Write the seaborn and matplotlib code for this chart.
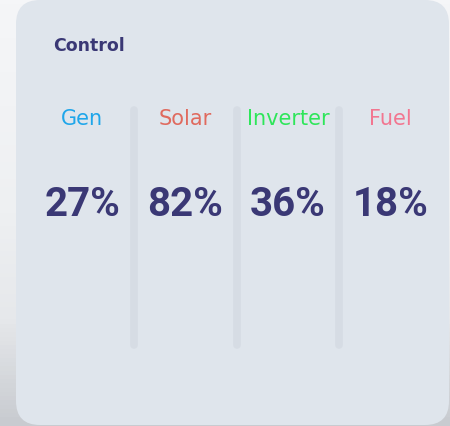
import numpy as np
import matplotlib.pyplot as plt
import seaborn as sns
from matplotlib.patches import FancyBboxPatch

# card data
title = 'Control'
sources = ['Gen', 'Solar', 'Inverter', 'Fuel']
percents = [27, 82, 36, 18]
label_colors = ['#1fa6ea', '#e06a5e', '#2ee65a', '#f27690']

sns.set_theme(style='white')
plt.rcParams['font.family'] = ['DejaVu Sans']

navy = '#3a3875'
card_color = '#dfe5ec'
sep_color = '#d6dce4'

fig = plt.figure(figsize=(4.5, 4.26), dpi=100)
fig.patch.set_facecolor('#eef0f3')

# background with soft shadow gradient, pixel coordinates
bg = fig.add_axes([0, 0, 1, 1])
bg.set_xlim(0, 450)
bg.set_ylim(426, 0)
bg.axis('off')
grad = np.linspace(0, 1, 100)[:, None] * np.ones((1, 10))
shade = sns.blend_palette(['#f5f6f8', '#f2f3f5', '#eef0f2', '#e6e8eb', '#c8cbd0'], as_cmap=True)
bg.imshow(grad, extent=(0, 450, 426, 0), cmap=shade, aspect='auto', zorder=0)
card = FancyBboxPatch((16, 0), 433, 425, boxstyle='round,pad=0,rounding_size=24',
                      facecolor=card_color, edgecolor='none', zorder=1)
bg.add_patch(card)
bg.text(53, 51, title, fontsize=12.5, fontweight='bold', color=navy,
        va='baseline', ha='left', zorder=3)

# columns axis: categories through the axis scale
ax = fig.add_axes([31 / 450, (426 - 360) / 426, (442 - 31) / 450, 270 / 426])
ax.set_xlim(-0.5, len(sources) - 0.5)
ax.set_ylim(360, 90)
ax.axis('off')
ax.patch.set_alpha(0)

xs = np.arange(len(sources))
ax.vlines(xs[:-1] + 0.5, 110, 345, color=sep_color, lw=5.5, capstyle='round', zorder=1)
for x, name, val, c in zip(xs, sources, percents, label_colors):
    ax.text(x, 125, name, fontsize=15, color=c, ha='center', va='baseline')
    ax.text(x, 216, f'{val}%', fontsize=29, fontweight='bold', color=navy,
            ha='center', va='baseline', family=['Roboto', 'DejaVu Sans'])

fig.savefig('out.png', dpi=100, facecolor=fig.get_facecolor())
